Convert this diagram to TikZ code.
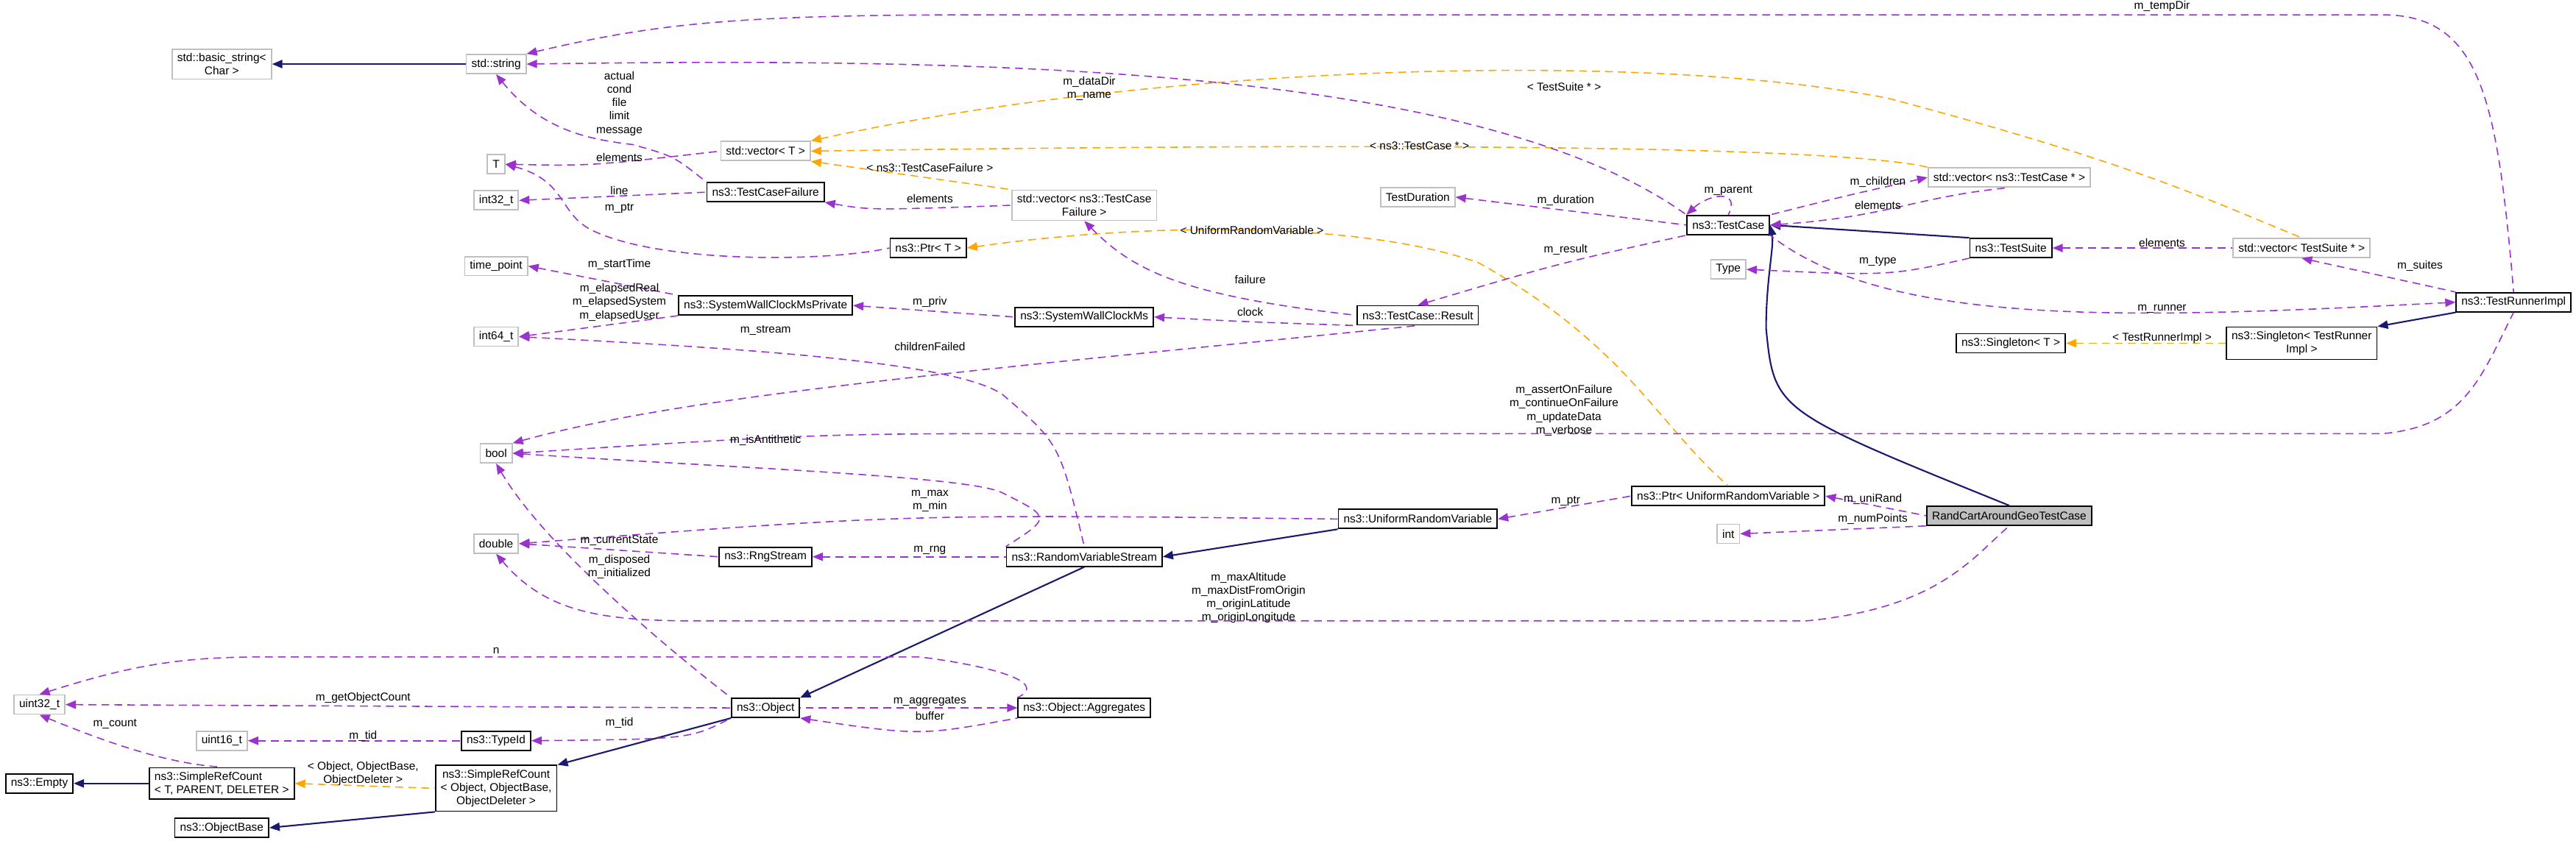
\documentclass[tikz,border=0pt]{standalone}
\usepackage{fontspec}
\setmainfont{Liberation Sans}
\usetikzlibrary{arrows.meta}
\definecolor{depviolet}{RGB}{154,50,205}
\definecolor{inhnavy}{RGB}{25,25,112}
\definecolor{tplorange}{RGB}{255,165,0}
\definecolor{extgray}{RGB}{191,191,191}

\tikzset{
  cls/.style={draw=black, fill=white, line width=0.5pt, inner xsep=2pt, inner ysep=1.6pt, minimum height=0.26cm, align=center, font=\fontsize{4.4}{5.2}\selectfont},
  extcls/.style={cls, draw=extgray},
  maincls/.style={cls, fill=extgray},
  lbl/.style={inner sep=0pt, align=center, font=\fontsize{4.4}{5.2}\selectfont},
  dep/.style={depviolet, densely dashed, line width=0.45pt, {Triangle[length=4pt,width=3.2pt]}-},
  inh/.style={inhnavy, line width=0.6pt, {Triangle[length=4pt,width=3.2pt]}-},
  tpl/.style={tplorange, densely dashed, line width=0.45pt, {Triangle[length=4pt,width=3.2pt]}-}
}

\begin{document}
\begin{tikzpicture}[x=0.02232cm, y=-0.02232cm]
    \useasboundingbox (0,0) rectangle (1568,512);

    % Left columns
    \node[extcls] (basicstr) at (135,39) {std::basic\_string\textless\\Char \textgreater};
    \node[extcls] (stdstr) at (302,39) {std::string};
    \node[extcls] (tT) at (302,100) {T};
    \node[extcls] (i32) at (302,122) {int32\_t};
    \node[extcls] (tpoint) at (302,162) {time\_point};
    \node[extcls] (i64) at (302,205) {int64\_t};
    \node[extcls] (bool) at (302,276) {bool};
    \node[extcls] (dbl) at (302,331) {double};
    \node[extcls] (u32) at (24,429) {uint32\_t};
    \node[extcls] (u16) at (135,451) {uint16\_t};
    \node[cls] (typeid) at (302,451) {ns3::TypeId};
    \node[cls] (empty) at (24,477) {ns3::Empty};
    \node[cls, align=left] (srcT) at (135,477) {ns3::SimpleRefCount\\\textless{} T, PARENT, DELETER \textgreater};
    \node[cls] (srcObj) at (302,480) {ns3::SimpleRefCount\\\textless{} Object, ObjectBase,\\ObjectDeleter \textgreater};
    \node[cls] (objbase) at (135,504) {ns3::ObjectBase};

    % Middle columns
    \node[extcls] (vecT) at (466,92) {std::vector\textless{} T \textgreater};
    \node[cls] (tcfail) at (466,117) {ns3::TestCaseFailure};
    \node[extcls] (vecfail) at (660,125) {std::vector\textless{} ns3::TestCase\\Failure \textgreater};
    \node[cls] (ptrT) at (565,151) {ns3::Ptr\textless{} T \textgreater};
    \node[cls] (swpriv) at (466,186) {ns3::SystemWallClockMsPrivate};
    \node[cls] (swms) at (660,193) {ns3::SystemWallClockMs};
    \node[cls] (rngs) at (466,339) {ns3::RngStream};
    \node[cls] (rvs) at (660,339) {ns3::RandomVariableStream};
    \node[cls] (object) at (466,431) {ns3::Object};
    \node[cls] (aggr) at (660,431) {ns3::Object::Aggregates};

    % Right columns
    \node[extcls] (tdur) at (863,120) {TestDuration};
    \node[cls] (result) at (863,192) {ns3::TestCase::Result};
    \node[cls] (urv) at (863,316) {ns3::UniformRandomVariable};
    \node[cls] (testcase) at (1052,137) {ns3::TestCase};
    \node[extcls] (ttype) at (1052,164) {Type};
    \node[cls] (ptrurv) at (1052,302) {ns3::Ptr\textless{} UniformRandomVariable \textgreater};
    \node[extcls] (tint) at (1052,325) {int};
    \node[extcls] (vectc) at (1223,108) {std::vector\textless{} ns3::TestCase * \textgreater};
    \node[cls] (suite) at (1224,151) {ns3::TestSuite};
    \node[cls] (singT) at (1224,209) {ns3::Singleton\textless{} T \textgreater};
    \node[maincls] (randcart) at (1223,314) {RandCartAroundGeoTestCase};
    \node[extcls] (vects) at (1401,151) {std::vector\textless{} TestSuite * \textgreater};
    \node[cls] (singrun) at (1401,209) {ns3::Singleton\textless{} TestRunner\\Impl \textgreater};
    \node[cls] (runner) at (1530,184) {ns3::TestRunnerImpl};

    % Inheritance
    \draw[inh] (basicstr) -- (stdstr);
    \draw[inh] (empty) -- (srcT);
    \draw[inh] (objbase.east) -- (srcObj.south west);
    \draw[inh] (srcObj.north east) -- (object.south west);
    \draw[inh] (object.north east) -- (rvs.south);
    \draw[inh] (rvs.east) -- (urv.south west);
    \draw[inh] (testcase.east) -- (suite.north west);
    \draw[inh] (testcase.east) .. controls (1080,150) and (1075,170) .. (1075,200) .. controls (1080,250) .. (randcart.north);
    \draw[inh] (singrun.north east) -- (runner.south west);

    % Template instances
    \draw[tpl] (vecT.north east) .. controls (700,40) and (1000,30) .. (1150,60) .. controls (1300,100) and (1340,120) .. (vects.north);
    \draw[tpl] (vecT.east) .. controls (700,89) and (1100,85) .. (vectc.north west);
    \draw[tpl] (vecT.south east) -- (vecfail.north west);
    \draw[tpl] (ptrT.east) .. controls (700,135) and (830,135) .. (900,160) .. controls (990,210) and (1010,260) .. (ptrurv.north);
    \draw[tpl] (srcT.east) -- (srcObj.west);
    \draw[tpl] (singT.east) -- (singrun.west);

    % Members
    \draw[dep] (stdstr.north east) .. controls (400,14) and (450,9) .. (600,9) -- (1450,9) .. controls (1510,9) and (1520,60) .. (runner.north);
    \draw[dep] (stdstr.east) .. controls (600,35) and (900,40) .. (testcase.north west);
    \draw[dep] (stdstr.south) .. controls (330,80) and (360,85) .. (385,88) .. controls (410,95) .. (tcfail.north west);
    \draw[dep] (tT.east) .. controls (360,101) .. (vecT.west);
    \draw[dep] (tT.east) .. controls (345,110) and (340,130) .. (360,140) .. controls (400,160) and (500,160) .. (ptrT.west);
    \draw[dep] (i32.east) -- (tcfail.west);
    \draw[dep] (tpoint.east) -- (swpriv.north west);
    \draw[dep] (i64.east) -- (swpriv.south west);
    \draw[dep] (i64.east) .. controls (450,212) and (580,220) .. (610,240) .. controls (645,270) .. (rvs.north);
    \draw[dep] (tcfail.south east) .. controls (530,128) .. (vecfail.west);
    \draw[dep] (vecfail.south) .. controls (690,165) and (720,180) .. (result.west);
    \draw[dep] (swpriv.east) -- (swms.west);
    \draw[dep] (swms.east) .. controls (760,196) .. (result.south west);
    \draw[dep] (bool.north east) .. controls (420,240) and (600,225) .. (result.south);
    \draw[dep] (bool.east) .. controls (500,264) .. (650,264) -- (1450,264) .. controls (1500,260) and (1510,230) .. (runner.south);
    \draw[dep] (bool.east) .. controls (450,285) and (590,290) .. (610,300) .. controls (640,315) .. (rvs.north west);
    \draw[dep] (bool.south) .. controls (330,330) and (400,390) .. (object.north west);
    \draw[dep] (dbl.east) .. controls (550,313) .. (urv.west);
    \draw[dep] (dbl.east) .. controls (380,335) .. (rngs.west);
    \draw[dep] (dbl.south) .. controls (330,370) and (360,378) .. (420,378) -- (1100,378) .. controls (1180,370) and (1200,340) .. (randcart.south);
    \draw[dep] (u32.north) .. controls (80,405) and (110,400) .. (160,400) -- (560,400) .. controls (600,405) and (640,415) .. (aggr.north west);
    \draw[dep] (u32.east) -- (object.west);
    \draw[dep] (u32.south) .. controls (60,450) and (100,465) .. (srcT.north);
    \draw[dep] (u16.east) -- (typeid.west);
    \draw[dep] (typeid.east) .. controls (420,450) .. (object.south west);
    \draw[dep] (aggr.west) -- (object.east);
    \draw[dep] (object.south east) .. controls (560,448) .. (aggr.south west);
    \draw[dep] (rngs.east) -- (rvs.west);
    \draw[dep] (urv.east) -- (ptrurv.west);
    \draw[dep] (ptrurv.east) -- (randcart.west);
    \draw[dep] (tint.east) -- (randcart.south west);
    \draw[dep] (testcase.north west) .. controls (1040,118) and (1060,115) .. (testcase.north);
    \draw[dep] (vectc.west) .. controls (1120,120) .. (testcase.north east);
    \draw[dep] (testcase.east) .. controls (1150,132) and (1165,120) .. (vectc.south);
    \draw[dep] (tdur.east) -- (testcase.west);
    \draw[dep] (result.north) .. controls (950,160) .. (testcase.south west);
    \draw[dep] (ttype.east) .. controls (1150,168) .. (suite.south west);
    \draw[dep] (suite.east) -- (vects.west);
    \draw[dep] (vects.south) -- (runner.north west);
    \draw[dep] (runner.west) .. controls (1300,194) and (1150,200) .. (testcase.south east);

    % Edge labels
    \node[lbl] (lTemp) at (1316,4) {m\_tempDir};
    \node[lbl] (lData) at (663,54) {m\_dataDir\\m\_name};
    \node[lbl] (lFail) at (377,63) {actual\\cond\\file\\limit\\message};
    \node[lbl] (lElemT) at (377,96) {elements};
    \node[lbl] (lLine) at (377,116) {line};
    \node[lbl] (lPtrT) at (377,127) {m\_ptr};
    \node[lbl] (lTSuite) at (952,53) {\textless{} TestSuite * \textgreater};
    \node[lbl] (lTCase) at (864,89) {\textless{} ns3::TestCase * \textgreater};
    \node[lbl] (lTFail) at (566,102) {\textless{} ns3::TestCaseFailure \textgreater};
    \node[lbl] (lElemF) at (566,121) {elements};
    \node[lbl] (lUrvT) at (762,140) {\textless{} UniformRandomVariable \textgreater};
    \node[lbl] (lFailure) at (761,170) {failure};
    \node[lbl] (lStart) at (377,161) {m\_startTime};
    \node[lbl] (lElapsed) at (377,184) {m\_elapsedReal\\m\_elapsedSystem\\m\_elapsedUser};
    \node[lbl] (lPriv) at (566,184) {m\_priv};
    \node[lbl] (lClock) at (761,190) {clock};
    \node[lbl] (lStream) at (466,201) {m\_stream};
    \node[lbl] (lChild) at (566,211) {childrenFailed};
    \node[lbl] (lAssert) at (952,250) {m\_assertOnFailure\\m\_continueOnFailure\\m\_updateData\\m\_verbose};
    \node[lbl] (lAnti) at (466,268) {m\_isAntithetic};
    \node[lbl] (lMax) at (566,305) {m\_max\\m\_min};
    \node[lbl] (lCur) at (377,329) {m\_currentState};
    \node[lbl] (lDisp) at (377,345) {m\_disposed\\m\_initialized};
    \node[lbl] (lRng) at (566,335) {m\_rng};
    \node[lbl] (lMaxAlt) at (760,364) {m\_maxAltitude\\m\_maxDistFromOrigin\\m\_originLatitude\\m\_originLongitude};
    \node[lbl] (lN) at (302,396) {n};
    \node[lbl] (lGet) at (221,425) {m\_getObjectCount};
    \node[lbl] (lCount) at (70,441) {m\_count};
    \node[lbl] (lTid1) at (221,448) {m\_tid};
    \node[lbl] (lTid2) at (377,440) {m\_tid};
    \node[lbl] (lSrc) at (221,471) {\textless{} Object, ObjectBase,\\ObjectDeleter \textgreater};
    \node[lbl] (lAggr) at (566,427) {m\_aggregates};
    \node[lbl] (lBuf) at (566,436) {buffer};
    \node[lbl] (lPtr) at (953,305) {m\_ptr};
    \node[lbl] (lUni) at (1140,304) {m\_uniRand};
    \node[lbl] (lNum) at (1140,316) {m\_numPoints};
    \node[lbl] (lParent) at (1052,116) {m\_parent};
    \node[lbl] (lChildren) at (1143,111) {m\_children};
    \node[lbl] (lElemC) at (1143,125) {elements};
    \node[lbl] (lDur) at (953,122) {m\_duration};
    \node[lbl] (lRes) at (953,152) {m\_result};
    \node[lbl] (lType) at (1143,159) {m\_type};
    \node[lbl] (lElemS) at (1316,148) {elements};
    \node[lbl] (lSuites) at (1473,162) {m\_suites};
    \node[lbl] (lRunner) at (1316,188) {m\_runner};
    \node[lbl] (lSingl) at (1316,206) {\textless{} TestRunnerImpl \textgreater};
\end{tikzpicture}
\end{document}
